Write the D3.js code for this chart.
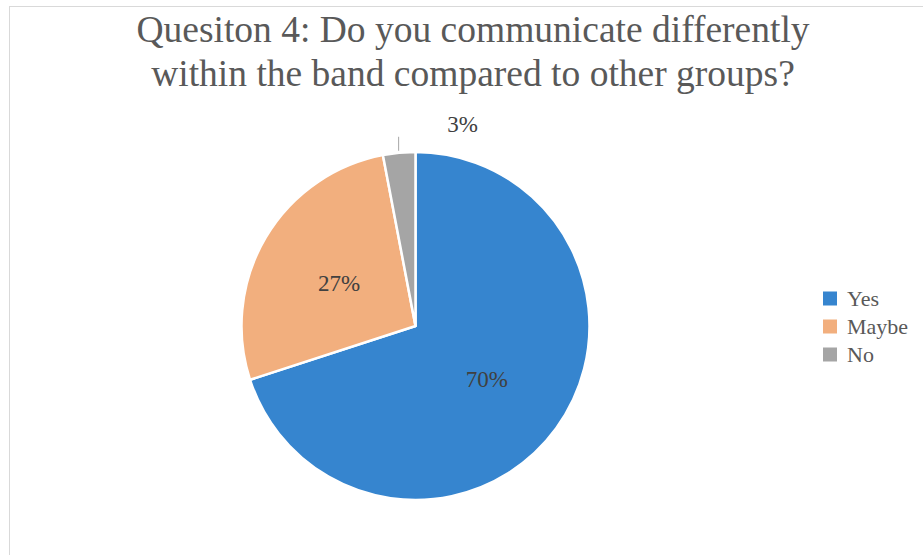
<!DOCTYPE html>
<html>
<head>
<meta charset="utf-8">
<script src="https://cdn.jsdelivr.net/npm/d3@7/dist/d3.min.js"></script>
<style>
  html, body { margin: 0; padding: 0; background: #fff; }
  svg { display: block; }
</style>
</head>
<body>
<svg id="chart" width="923" height="555"></svg>
<script>
// Survey answers (percent of respondents)
const categories = ["Yes", "Maybe", "No"];
const values = [70, 27, 3];
const colors = ["#3685cf", "#f2af7e", "#a5a5a5"];
const titleLines = [
  "Quesiton 4: Do you communicate differently",
  "within the band compared to other groups?"
];

const svg = d3.select("#chart");
const W = 923, H = 555;
const serif = "'Liberation Serif', 'Times New Roman', serif";

// Chart frame
svg.append("rect")
  .attr("x", 9.5).attr("y", 6.5)
  .attr("width", W + 20).attr("height", H + 20)
  .attr("fill", "#fff")
  .attr("stroke", "#d9d9d9").attr("stroke-width", 1);

// Title
svg.append("g").selectAll("text")
  .data(titleLines)
  .join("text")
  .attr("x", 473)
  .attr("y", (d, i) => 42 + i * 44)
  .attr("text-anchor", "middle")
  .attr("font-family", serif)
  .attr("font-size", 37.5)
  .attr("fill", "#595959")
  .text(d => d);

// Pie
const cx = 415.5, cy = 326, r = 174;
const pie = d3.pie().sort(null).value(d => d.value);
const data = categories.map((c, i) => ({ name: c, value: values[i], color: colors[i] }));
const arcs = pie(data);
const arc = d3.arc().innerRadius(0).outerRadius(r);

const g = svg.append("g").attr("transform", `translate(${cx},${cy})`);
g.selectAll("path")
  .data(arcs)
  .join("path")
  .attr("d", arc)
  .attr("fill", d => d.data.color)
  .attr("stroke", "#fff")
  .attr("stroke-width", 2.5)
  .attr("stroke-linejoin", "round");

// Data labels: inside for large slices, outside with a leader for the small one
const labelPos = d3.arc().innerRadius(r * 0.5).outerRadius(r * 0.5);
const total = d3.sum(values);
const labelOffsets = [[1, 2], [-1.5, 1.5], null];

arcs.forEach((a, i) => {
  const pct = Math.round(a.data.value / total * 100) + "%";
  if (labelOffsets[i]) {
    const [x, y] = labelPos.centroid(a);
    g.append("text")
      .attr("x", x + labelOffsets[i][0])
      .attr("y", y + labelOffsets[i][1])
      .attr("text-anchor", "middle")
      .attr("dy", "0.35em")
      .attr("font-family", serif)
      .attr("font-size", 23)
      .attr("fill", "#404040")
      .text(pct);
  } else {
    const mid = (a.startAngle + a.endAngle) / 2;
    const px = r * Math.sin(mid), py = -r * Math.cos(mid);
    g.append("line")
      .attr("x1", px - 0.5).attr("y1", py - 2)
      .attr("x2", px - 0.5).attr("y2", py - 16)
      .attr("stroke", "#a6a6a6").attr("stroke-width", 1);
    g.append("text")
      .attr("x", px + 63.5)
      .attr("y", py - 28.5)
      .attr("text-anchor", "middle")
      .attr("dy", "0.35em")
      .attr("font-family", serif)
      .attr("font-size", 23)
      .attr("fill", "#404040")
      .text(pct);
  }
});

// Legend
const legend = svg.append("g").attr("transform", "translate(823,298.5)");
const rows = legend.selectAll("g")
  .data(data)
  .join("g")
  .attr("transform", (d, i) => `translate(0,${i * 28})`);
rows.append("rect")
  .attr("x", 0).attr("y", -7)
  .attr("width", 14).attr("height", 14)
  .attr("fill", d => d.color);
rows.append("text")
  .attr("x", 24).attr("y", 0)
  .attr("dy", "0.33em")
  .attr("font-family", serif)
  .attr("font-size", 22)
  .attr("fill", "#595959")
  .text(d => d.name);
</script>
</body>
</html>
